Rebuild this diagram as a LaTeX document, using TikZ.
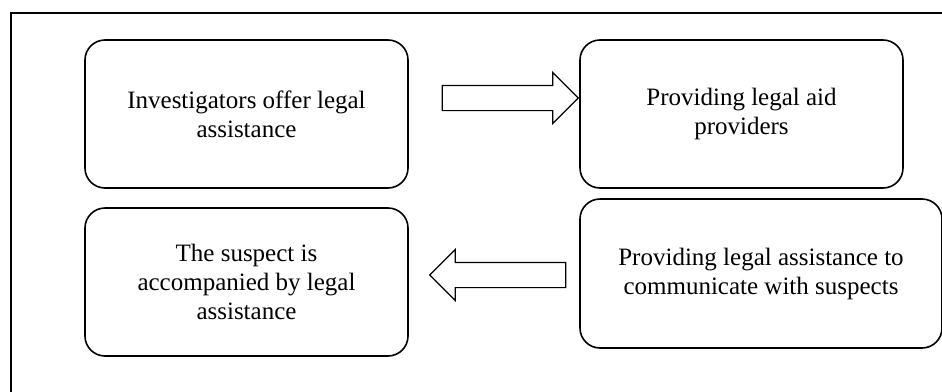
\documentclass[tikz,border=0pt]{standalone}
\usepackage{fontspec}
\setmainfont{Liberation Serif}
\usetikzlibrary{shapes.arrows}
\begin{document}
\begin{tikzpicture}[x=1pt,y=-1pt,
    stage/.style={draw=black,line width=1.6pt,rounded corners=20pt,minimum width=323pt,minimum height=148pt,align=center,font=\fontsize{25}{29}\selectfont},
    hollow/.style={shape=single arrow,draw=black,line width=1.2pt,minimum height=136pt,inner sep=0pt,inner ysep=12pt,single arrow head extend=13pt}]
    \useasboundingbox (0,0) rectangle (942,391);
    % outer frame, cut off on the right and at the bottom
    \draw[line width=1.6pt] (11,13) rectangle (980,430);
    \node[stage] (offer) at (246.5,114) {Investigators offer legal\\assistance};
    \node[stage] (aid) at (741.5,114) {Providing legal aid\\providers};
    \node[stage] (accompany) at (246.5,282) {The suspect is\\accompanied by legal\\assistance};
    \node[stage,minimum width=362pt,minimum height=149pt] (communicate) at (761,273.5) {Providing legal assistance to\\communicate with suspects};
    \node[hollow] (forward) at (504,98) {};
    \node[hollow,shape border rotate=180] (back) at (504,275) {};
\end{tikzpicture}
\end{document}
